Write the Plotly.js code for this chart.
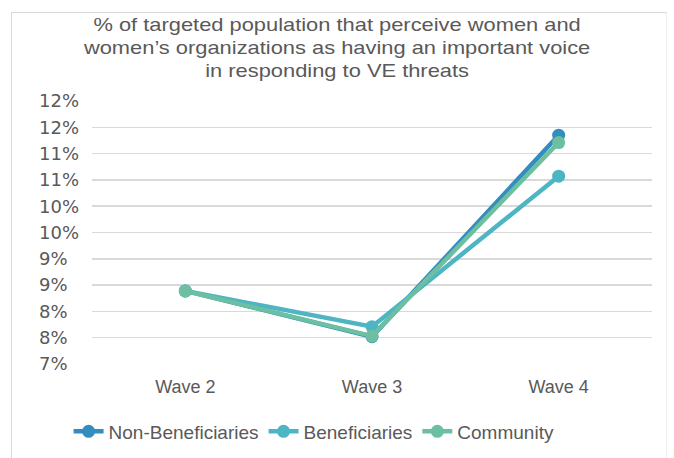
<!DOCTYPE html>
<html>
<head>
<meta charset="utf-8">
<script src="https://cdn.plot.ly/plotly-3.0.1.min.js"></script>
<style>
  html, body { margin: 0; padding: 0; background: #ffffff; }
  #wrap { position: relative; width: 674px; height: 458px; overflow: hidden; }
  #frame {
    position: absolute; left: 11px; top: 12px; width: 656px; height: 460px;
    border-left: 1px solid #d9d9d9; border-top: 1px solid #d9d9d9; border-right: 1px solid #f0f0f0;
    box-sizing: border-box;
  }
  #chart { position: absolute; left: 0; top: 0; width: 674px; height: 458px; }
  /* slightly wider title lettering */
  #chart .gtitle { transform-box: fill-box; transform-origin: 50% 50%; transform: scaleX(1.25); }
</style>
</head>
<body>
<div id="wrap">
  <div id="frame"></div>
  <div id="chart"></div>
</div>
<script>
// Survey waves and the share (%) of each group
const categories = ['Wave 2', 'Wave 3', 'Wave 4'];
const nonBeneficiaries = [8.39, 7.52, 11.35];
const beneficiaries = [8.39, 7.71, 10.57];
const community = [8.39, 7.53, 11.21];

// Value axis ticks (labels rounded to whole percent)
const tickValues = [7, 7.5, 8, 8.5, 9, 9.5, 10, 10.5, 11, 11.5, 12];
const tickLabels = ['7%', '8%', '8%', '9%', '9%', '10%', '10%', '11%', '11%', '12%', '12%'];

const seriesNames = ['Non-Beneficiaries', 'Beneficiaries', 'Community'];
const seriesColors = ['#348dbf', '#4db5c3', '#6cbfa1'];
const seriesValues = [nonBeneficiaries, beneficiaries, community];

const traces = seriesValues.map((vals, i) => ({
  type: 'scatter',
  mode: 'lines+markers',
  name: seriesNames[i],
  x: categories,
  y: vals,
  line: { color: seriesColors[i], width: 4.5 },
  marker: { color: seriesColors[i], size: 13 },
  hoverinfo: 'skip'
}));

// Left-align the percent labels: pad one-digit labels with a figure space
const alignedLabels = tickLabels.map(t => (t.length < 3 ? t + '\u2007' : t));

const textColor = '#595959';
const fontFamily = '"Liberation Sans", Arial, sans-serif';

const layout = {
  width: 674,
  height: 458,
  paper_bgcolor: 'rgba(0,0,0,0)',
  plot_bgcolor: '#ffffff',
  margin: { l: 92, r: 22, t: 101, b: 94, autoexpand: false },
  font: { family: fontFamily, color: textColor, size: 18 },
  title: {
    text: '% of targeted population that perceive women and<br>women’s organizations as having an important voice<br>in responding to VE threats',
    font: { family: fontFamily, color: textColor, size: 17.5 },
    x: 0.5, xref: 'container', xanchor: 'center',
    y: 0.932, yref: 'container', yanchor: 'top'
  },
  xaxis: {
    type: 'category',
    range: [-0.5, 2.5],
    showgrid: false,
    showline: false,
    zeroline: false,
    ticks: '',
    ticklabelstandoff: 10,
    tickfont: { size: 18, color: textColor }
  },
  yaxis: {
    range: [7, 12],
    tickmode: 'array',
    tickvals: tickValues,
    ticktext: alignedLabels,
    showgrid: true,
    gridcolor: '#d9d9d9',
    gridwidth: 1.5,
    zeroline: false,
    showline: false,
    ticks: '',
    ticklabelstandoff: 12,
    tickfont: { family: '"DejaVu Sans", sans-serif', size: 18, color: textColor }
  },
  showlegend: true,
  legend: {
    orientation: 'h',
    xref: 'container', x: 0.466, xanchor: 'center',
    yref: 'container', y: 0.058, yanchor: 'middle',
    font: { size: 19, color: textColor },
    traceorder: 'normal',
    itemclick: false
  },
  hovermode: false
};

Plotly.newPlot('chart', traces, layout, { displayModeBar: false, staticPlot: true });
</script>
</body>
</html>
